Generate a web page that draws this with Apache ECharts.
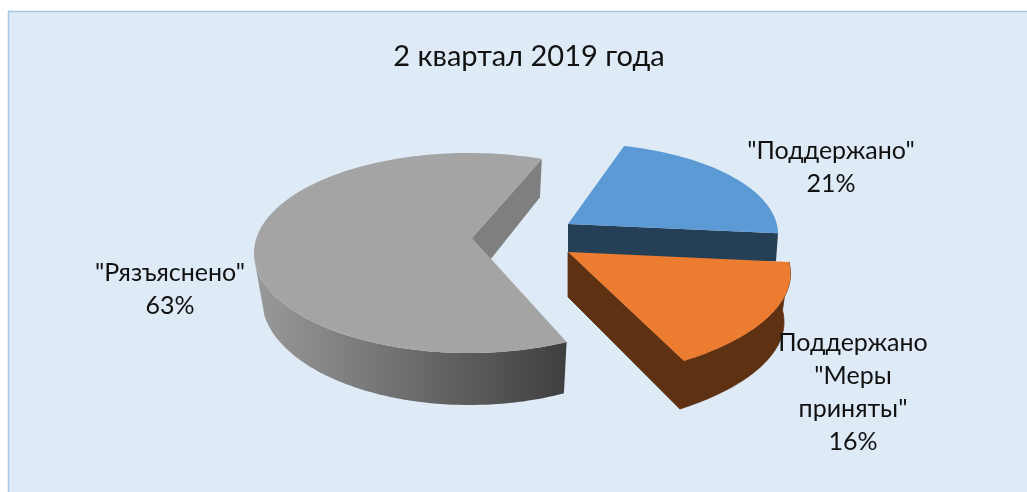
<!DOCTYPE html>
<html><head><meta charset="utf-8">
<style>html,body{margin:0;padding:0;background:#fff}#c{width:1027px;height:492px}</style>
<script src="https://cdn.jsdelivr.net/npm/echarts@6/dist/echarts.min.js"></script>
</head><body><div id="c"></div>
<script>
const chartTitle = '2 квартал 2019 года';
const categories = ['"Рязъяснено"', '"Поддержано"', 'Поддержано\n"Меры\nприняты"'];
const values = [63, 21, 16];
const FONT = 'Lato';

// Layout of the perspective: ellipses for the top and bottom of each slice.
const layout = [
  { start: 63, top: {cx:469,cy:253,rx:215,ry:100}, bot:{cx:469.5,cy:298,rx:208,ry:107}, apex:[472,238], apexBot:[471,284],
    face:'#a4a4a4', outer:{type:'linear',x:0,y:0,x2:1,y2:0,colorStops:[{offset:0,color:'#9a9a9a'},{offset:1,color:'#3f3f3f'}]}, outerEnd:175, outerEndBot:170, wall:'#7f7f7f', label:[170,272] },
  { start:-76, top:{cx:575,cy:234,rx:203,ry:90.7}, bot:{cx:573,cy:262,rx:203,ry:95}, apex:[568,224], apexBot:[568,266],
    face:'#5b9ad5', outer:null, wall:'#243f56', label:[831,150] },
  { start:-6, top:{cx:509.5,cy:273.6,rx:281,ry:111.5}, bot:{cx:509,cy:322,rx:275,ry:111}, apex:[568,252], apexBot:[568,297],
    face:'#ec7c30', outer:'#5f3113', wall:'#5f3113', label:[853,342] }
];
const total = values.reduce((a,b)=>a+b,0);
const pt = (e,deg)=>{const t=deg*Math.PI/180;return [e.cx+e.rx*Math.cos(t), e.cy+e.ry*Math.sin(t)];};
const arc = (e,a,b)=>{const n=Math.max(8,Math.round(Math.abs(b-a)/1.5));const r=[];for(let i=0;i<=n;i++)r.push(pt(e,a+(b-a)*i/n));return r;};
const poly = (points,fill,seal)=>({type:'polygon',shape:{points},style:{fill,stroke:seal?fill:null,lineWidth:seal?0.8:0}});

function renderItem(params, api){
  const i = params.dataIndex, L = layout[i], v = api.value(0);
  const span = v/total*360, a = L.start, b = a+span, kids = [];
  kids.push(poly(i===0 ? [pt(L.top,b),pt(L.bot,b),L.apexBot,L.apex] : [L.apex,pt(L.top,b),pt(L.bot,b),L.apexBot], L.wall, i===2));
  if (L.outer) {
    const end = L.outerEnd === undefined ? b : L.outerEnd;
    const endBot = L.outerEndBot === undefined ? end : L.outerEndBot;
    kids.push(poly(arc(L.top,a,end).concat(arc(L.bot,endBot,a)), L.outer, i===2));
  }
  kids.push(poly([L.apex].concat(arc(L.top,a,b)), L.face));
  const lines = categories[i]+'\n'+Math.round(v/total*100)+'%';
  kids.push({type:'text',x:L.label[0],y:L.label[1],style:{text:lines,font:'25px "'+FONT+'"',fill:'#111',align:'center',verticalAlign:'top',lineHeight:33,padding:[-16,0,0,0]}});
  return {type:'group',children:kids};
}

const chart = echarts.init(document.getElementById('c'),null,{renderer:'canvas'});
chart.setOption({
  animation:false,
  backgroundColor:'#ffffff',
  title:{text:chartTitle,left:524,top:37,textAlign:'center',textStyle:{fontFamily:FONT,fontSize:29,fontWeight:'normal',color:'#111'}},
  graphic:[{type:'rect',z:-10,silent:true,shape:{x:8.5,y:11.5,width:1030,height:490},style:{fill:'#deeaf6',stroke:'#a6c8e8',lineWidth:1.5}}],
  series:[{type:'custom',coordinateSystem:'none',renderItem,data:values.map(v=>[v]),silent:true,z:2}]
});
</script></body></html>
